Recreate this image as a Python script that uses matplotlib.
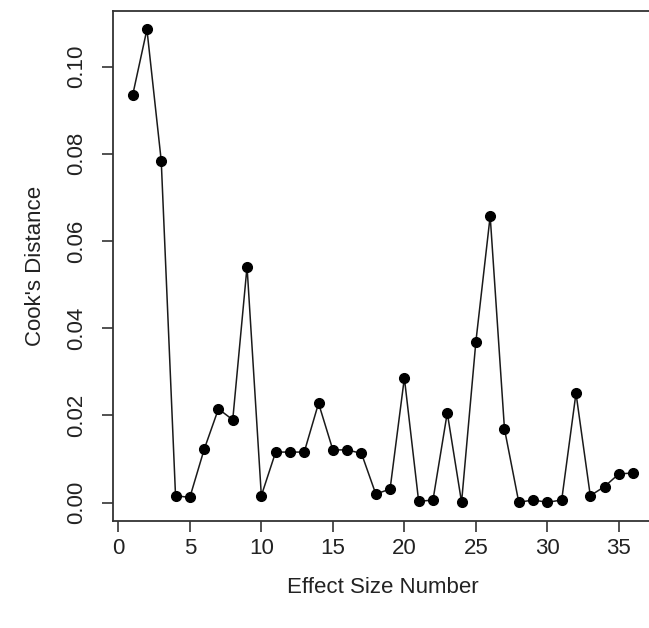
import matplotlib.pyplot as plt

plt.rcParams['font.family'] = ['Liberation Sans', 'DejaVu Sans']

# Cook's distance per effect size
effect_number = list(range(1, 37))
cooks_distance = [
    0.0934, 0.1085, 0.0784, 0.0016, 0.0012, 0.0122, 0.0215, 0.0190, 0.0541,
    0.0016, 0.0116, 0.0116, 0.0116, 0.0228, 0.0121, 0.0121, 0.0113, 0.0020,
    0.0031, 0.0286, 0.0003, 0.0006, 0.0206, 0.0001, 0.0369, 0.0657, 0.0169,
    0.0001, 0.0006, 0.0001, 0.0006, 0.0251, 0.0016, 0.0037, 0.0066, 0.0068,
]
x_ticks = [0, 5, 10, 15, 20, 25, 30, 35]
y_ticks = [0.00, 0.02, 0.04, 0.06, 0.08, 0.10]

fig = plt.figure(figsize=(6.49, 6.28), dpi=100)
ax = fig.add_axes([0.1735, 0.1704, 0.833, 0.8126])

ax.plot(effect_number, cooks_distance, color='#1a1a1a', linewidth=1.1,
        marker='o', markersize=7, markerfacecolor='black', markeredgecolor='black')

ax.set_xlim(-0.4, 37.4)
ax.set_ylim(-0.0042, 0.1128)
ax.set_xticks(x_ticks)
ax.set_yticks(y_ticks)
ax.set_yticklabels([f'{v:.2f}' for v in y_ticks], rotation=90, va='center')

ax.tick_params(axis='both', labelsize=16, length=8, width=1.2, colors='#333333',
               labelcolor='#222222')
ax.tick_params(axis='x', pad=4)
ax.tick_params(axis='y', pad=10)
for side in ax.spines.values():
    side.set_linewidth(1.3)
    side.set_color('#333333')

ax.set_xlabel('Effect Size Number', fontsize=16, color='#222222', labelpad=13)
ax.set_ylabel("Cook's Distance", fontsize=16, color='#222222', labelpad=15)

fig.savefig('out.png', dpi=100)
